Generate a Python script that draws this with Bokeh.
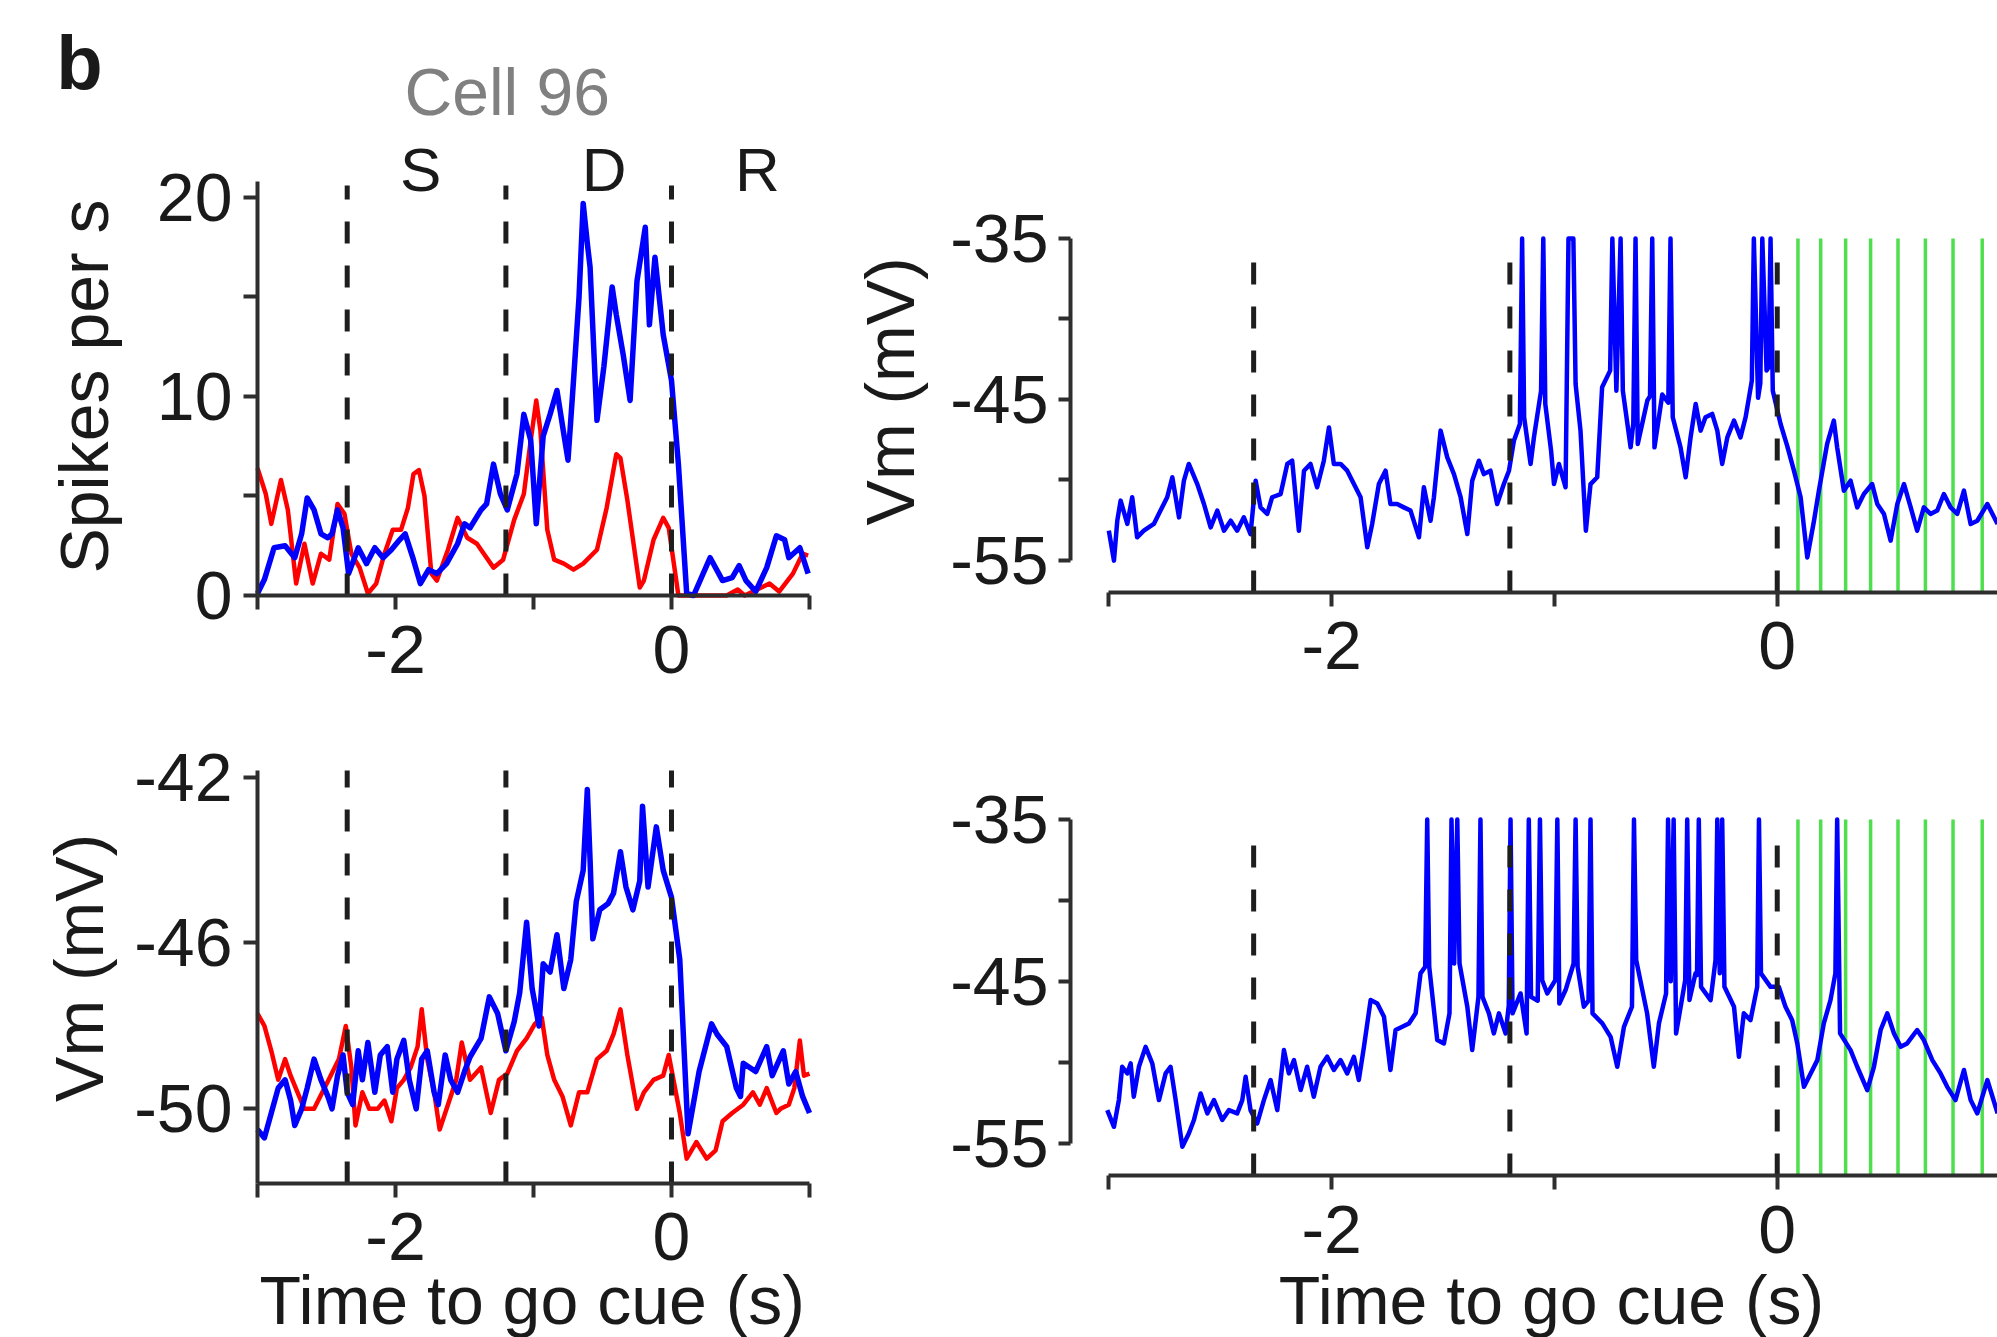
from math import pi
from bokeh.plotting import figure
from bokeh.layouts import column, row
from bokeh.models import Range1d, FixedTicker, Label
from bokeh.embed import file_html
from bokeh.resources import INLINE

# ---------------- data ----------------
epoch_times = [-2.35, -1.2, 0.0]          # sample / delay / response boundaries
photostim_times = [0.093, 0.195, 0.307, 0.419, 0.542, 0.665, 0.789, 0.92]

# top-left: spike rate (spikes per s)
tl_blue = [(-3.00, 0.1), (-2.95, 0.8), (-2.88, 2.4), (-2.80, 2.5), (-2.73, 1.9), (-2.68, 3.1),
           (-2.64, 4.9), (-2.59, 4.3), (-2.54, 3.1), (-2.49, 2.9), (-2.46, 3.1), (-2.42, 4.3),
           (-2.38, 3.4), (-2.34, 1.1), (-2.27, 2.4), (-2.21, 1.6), (-2.15, 2.4), (-2.09, 1.9),
           (-2.03, 2.3), (-1.97, 2.8), (-1.93, 3.1), (-1.87, 1.8), (-1.82, 0.6), (-1.76, 1.3),
           (-1.70, 1.1), (-1.63, 1.6), (-1.55, 2.6), (-1.50, 3.6), (-1.46, 3.4), (-1.38, 4.3),
           (-1.34, 4.6), (-1.29, 6.6), (-1.24, 5.1), (-1.19, 4.3), (-1.12, 6.1), (-1.07, 9.1),
           (-1.02, 7.8), (-0.98, 3.6), (-0.93, 8.0), (-0.88, 9.1), (-0.83, 10.3), (-0.78, 8.1),
           (-0.75, 6.8), (-0.71, 10.8), (-0.67, 15.0), (-0.64, 19.7), (-0.61, 17.7), (-0.59, 16.5),
           (-0.54, 8.8), (-0.49, 11.5), (-0.43, 15.5), (-0.40, 14.1), (-0.35, 12.1), (-0.30, 9.8),
           (-0.25, 15.8), (-0.19, 18.5), (-0.16, 13.6), (-0.12, 17.0), (-0.06, 13.1), (0.00, 10.8),
           (0.05, 6.6), (0.11, 0.1), (0.16, 0.0), (0.28, 1.9), (0.37, 0.75), (0.44, 0.9),
           (0.49, 1.5), (0.54, 0.75), (0.61, 0.2), (0.69, 1.4), (0.76, 3.0), (0.82, 2.8),
           (0.85, 1.9), (0.93, 2.4), (0.99, 1.1)]
tl_red = [(-3.00, 6.4), (-2.94, 5.1), (-2.90, 3.6), (-2.83, 5.8), (-2.78, 4.3), (-2.72, 0.6),
          (-2.66, 2.6), (-2.60, 0.6), (-2.54, 2.1), (-2.48, 1.8), (-2.42, 4.6), (-2.37, 4.1),
          (-2.32, 2.1), (-2.26, 1.4), (-2.20, 0.1), (-2.14, 0.6), (-2.08, 2.1), (-2.02, 3.3),
          (-1.96, 3.3), (-1.91, 4.4), (-1.87, 6.1), (-1.83, 6.3), (-1.79, 5.0), (-1.74, 1.1),
          (-1.70, 0.75), (-1.62, 2.3), (-1.55, 3.9), (-1.48, 2.9), (-1.41, 2.6), (-1.36, 2.1),
          (-1.29, 1.4), (-1.22, 1.8), (-1.14, 3.8), (-1.07, 5.1), (-1.02, 7.8), (-0.98, 9.8),
          (-0.95, 8.3), (-0.90, 3.3), (-0.85, 1.8), (-0.78, 1.6), (-0.71, 1.3), (-0.64, 1.6),
          (-0.54, 2.3), (-0.47, 4.4), (-0.40, 7.1), (-0.37, 6.9), (-0.32, 4.8), (-0.23, 0.4),
          (-0.20, 0.75), (-0.13, 2.8), (-0.06, 3.9), (-0.02, 3.4), (0.05, 0.0), (0.40, 0.0),
          (0.48, 0.3), (0.53, 0.0), (0.71, 0.6), (0.78, 0.2), (0.88, 1.1), (0.95, 2.1), (0.99, 2.0)]

# bottom-left: average Vm (mV)
bl_blue = [(-3.00, -50.5), (-2.95, -50.7), (-2.90, -50.1), (-2.85, -49.5), (-2.80, -49.3),
           (-2.76, -49.8), (-2.73, -50.4), (-2.68, -50.0), (-2.64, -49.5), (-2.59, -48.8),
           (-2.54, -49.3), (-2.49, -49.7), (-2.46, -50.0), (-2.42, -49.2), (-2.38, -48.7),
           (-2.35, -49.6), (-2.31, -49.9), (-2.27, -48.6), (-2.24, -49.3), (-2.20, -48.4),
           (-2.15, -49.6), (-2.11, -48.7), (-2.06, -48.5), (-2.02, -49.6), (-1.99, -48.8),
           (-1.94, -48.35), (-1.90, -49.3), (-1.85, -50.0), (-1.81, -48.8), (-1.77, -48.6),
           (-1.72, -49.6), (-1.69, -49.9), (-1.64, -48.7), (-1.60, -49.3), (-1.55, -49.6),
           (-1.50, -49.1), (-1.46, -48.75), (-1.38, -48.3), (-1.32, -47.3), (-1.26, -47.7),
           (-1.20, -48.6), (-1.14, -47.9), (-1.10, -47.2), (-1.05, -45.5), (-1.01, -47.1),
           (-0.96, -48.0), (-0.93, -46.5), (-0.88, -46.7), (-0.83, -45.8), (-0.78, -47.1),
           (-0.73, -46.4), (-0.69, -45.0), (-0.64, -44.25), (-0.61, -42.3), (-0.59, -44.0),
           (-0.57, -45.9), (-0.52, -45.2), (-0.46, -45.05), (-0.42, -44.8), (-0.37, -43.8),
           (-0.33, -44.65), (-0.28, -45.2), (-0.23, -44.5), (-0.21, -42.7), (-0.17, -44.65),
           (-0.11, -43.2), (-0.06, -44.25), (0.00, -44.9), (0.06, -46.4), (0.12, -50.6),
           (0.20, -49.1), (0.29, -47.95), (0.33, -48.2), (0.40, -48.5), (0.47, -49.5),
           (0.50, -49.7), (0.52, -48.9), (0.61, -49.1), (0.69, -48.5), (0.73, -49.2),
           (0.81, -48.6), (0.85, -49.4), (0.90, -49.1), (0.95, -49.7), (1.00, -50.1)]
bl_red = [(-3.00, -47.7), (-2.95, -48.0), (-2.90, -48.6), (-2.85, -49.3), (-2.80, -48.8),
          (-2.76, -49.2), (-2.71, -49.6), (-2.66, -50.0), (-2.59, -50.0), (-2.53, -49.6),
          (-2.47, -49.2), (-2.41, -48.8), (-2.36, -48.0), (-2.32, -49.0), (-2.29, -50.4),
          (-2.24, -49.6), (-2.19, -50.0), (-2.13, -50.0), (-2.08, -49.8), (-2.03, -50.3),
          (-1.99, -49.5), (-1.94, -49.3), (-1.89, -49.0), (-1.84, -48.5), (-1.81, -47.6),
          (-1.77, -48.8), (-1.72, -49.6), (-1.68, -50.5), (-1.62, -49.9), (-1.56, -49.3),
          (-1.52, -48.4), (-1.46, -49.3), (-1.38, -49.0), (-1.31, -50.1), (-1.25, -49.3),
          (-1.19, -49.15), (-1.12, -48.6), (-1.05, -48.3), (-0.99, -47.95), (-0.94, -47.8),
          (-0.90, -48.7), (-0.85, -49.3), (-0.79, -49.7), (-0.73, -50.4), (-0.67, -49.6),
          (-0.61, -49.6), (-0.54, -48.8), (-0.47, -48.6), (-0.42, -48.2), (-0.37, -47.6),
          (-0.32, -48.7), (-0.25, -50.0), (-0.20, -49.6), (-0.13, -49.3), (-0.06, -49.2),
          (-0.02, -48.7), (0.06, -50.1), (0.11, -51.2), (0.18, -50.8), (0.255, -51.2),
          (0.32, -51.0), (0.37, -50.3), (0.44, -50.1), (0.52, -49.9), (0.59, -49.6),
          (0.64, -49.9), (0.69, -49.5), (0.76, -50.1), (0.79, -50.0), (0.85, -49.9),
          (0.89, -49.5), (0.93, -48.35), (0.96, -49.2), (1.00, -49.15)]

# top-right: single-trial Vm (spike peaks clipped at -35 mV)
tr_blue = [(-3.000, -53.16), (-2.977, -55.02), (-2.962, -52.54), (-2.947, -51.29), (-2.917, -52.74),
           (-2.895, -51.08), (-2.873, -53.57), (-2.843, -53.16), (-2.798, -52.74), (-2.768, -51.91),
           (-2.738, -51.08), (-2.715, -49.84), (-2.685, -52.33), (-2.663, -50.05), (-2.641, -49.01),
           (-2.603, -50.26), (-2.573, -51.50), (-2.543, -52.95), (-2.513, -51.91), (-2.483, -53.16),
           (-2.453, -52.54), (-2.424, -53.16), (-2.394, -52.33), (-2.364, -53.37), (-2.341, -50.05),
           (-2.319, -51.71), (-2.289, -52.12), (-2.267, -51.08), (-2.229, -50.88), (-2.199, -49.01),
           (-2.177, -48.81), (-2.147, -53.16), (-2.124, -49.43), (-2.095, -49.01), (-2.065, -50.46),
           (-2.035, -48.81), (-2.012, -46.74), (-1.990, -49.01), (-1.960, -49.01), (-1.930, -49.43),
           (-1.900, -50.26), (-1.870, -51.08), (-1.840, -54.19), (-1.818, -52.74), (-1.788, -50.26),
           (-1.758, -49.43), (-1.736, -51.50), (-1.706, -51.50), (-1.676, -51.71), (-1.646, -51.91),
           (-1.608, -53.57), (-1.586, -50.46), (-1.556, -52.54), (-1.541, -51.08), (-1.511, -46.94),
           (-1.481, -48.60), (-1.451, -49.64), (-1.421, -51.08), (-1.391, -53.37), (-1.369, -50.05),
           (-1.339, -48.81), (-1.317, -49.64), (-1.287, -49.43), (-1.257, -51.50), (-1.227, -50.26),
           (-1.204, -49.43), (-1.182, -47.57), (-1.155, -46.53), (-1.145, -35.0), (-1.136, -46.11),
           (-1.107, -49.01), (-1.092, -47.36), (-1.060, -44.46), (-1.050, -35.0), (-1.041, -45.28),
           (-1.015, -48.19), (-1.002, -50.26), (-0.980, -49.01), (-0.950, -50.46), (-0.937, -35.0),
           (-0.915, -35.0), (-0.905, -44.04), (-0.883, -46.94), (-0.859, -53.16), (-0.838, -50.26),
           (-0.808, -49.84), (-0.786, -44.25), (-0.750, -43.21), (-0.740, -35.0), (-0.722, -44.46),
           (-0.703, -35.0), (-0.693, -44.46), (-0.658, -47.98), (-0.646, -46.50), (-0.636, -35.0),
           (-0.626, -47.77), (-0.583, -45.07), (-0.571, -44.80), (-0.561, -35.0), (-0.551, -47.98),
           (-0.516, -44.70), (-0.489, -45.20), (-0.479, -35.0), (-0.469, -46.11), (-0.434, -47.98),
           (-0.411, -49.84), (-0.389, -47.36), (-0.366, -45.28), (-0.344, -46.94), (-0.322, -46.11),
           (-0.292, -45.90), (-0.269, -46.94), (-0.247, -49.01), (-0.224, -47.36), (-0.194, -46.32),
           (-0.165, -47.36), (-0.142, -46.11), (-0.114, -43.83), (-0.105, -35.0), (-0.086, -44.90),
           (-0.076, -44.00), (-0.067, -35.0), (-0.048, -43.20), (-0.039, -43.00), (-0.030, -35.0),
           (-0.020, -44.46), (0.015, -46.53), (0.045, -47.90), (0.075, -49.43), (0.105, -51.08),
           (0.135, -54.82), (0.165, -52.54), (0.187, -50.67), (0.224, -47.77), (0.254, -46.32),
           (0.269, -47.98), (0.299, -50.67), (0.329, -50.05), (0.359, -51.71), (0.389, -50.88),
           (0.426, -50.26), (0.449, -51.50), (0.479, -52.12), (0.509, -53.78), (0.539, -51.50),
           (0.569, -50.26), (0.599, -51.71), (0.628, -53.16), (0.658, -51.71), (0.688, -52.12),
           (0.718, -51.91), (0.748, -50.88), (0.778, -51.71), (0.808, -52.12), (0.838, -50.67),
           (0.868, -52.74), (0.898, -52.54), (0.943, -51.50), (0.989, -52.74)]

# bottom-right: single-trial Vm (spike peaks clipped at -35 mV)
br_blue = [(-3.007, -52.96), (-2.977, -53.99), (-2.955, -52.34), (-2.940, -50.28), (-2.917, -50.69),
           (-2.902, -50.07), (-2.888, -52.13), (-2.865, -50.28), (-2.835, -49.05), (-2.805, -50.07),
           (-2.775, -52.34), (-2.745, -50.69), (-2.723, -50.28), (-2.700, -52.34), (-2.670, -55.22),
           (-2.641, -54.40), (-2.618, -53.57), (-2.588, -51.93), (-2.558, -53.16), (-2.528, -52.34),
           (-2.491, -53.57), (-2.461, -52.96), (-2.424, -53.16), (-2.401, -52.34), (-2.386, -50.90),
           (-2.364, -52.96), (-2.334, -53.78), (-2.304, -52.34), (-2.274, -51.10), (-2.244, -52.96),
           (-2.214, -49.25), (-2.192, -50.69), (-2.169, -49.87), (-2.139, -51.72), (-2.110, -50.28),
           (-2.080, -52.13), (-2.050, -50.28), (-2.020, -49.66), (-1.990, -50.48), (-1.960, -49.87),
           (-1.930, -50.69), (-1.900, -49.66), (-1.878, -51.10), (-1.855, -49.05), (-1.825, -46.16),
           (-1.795, -46.37), (-1.765, -47.19), (-1.736, -50.48), (-1.713, -48.01), (-1.683, -47.81),
           (-1.653, -47.60), (-1.623, -46.98), (-1.601, -44.51), (-1.580, -44.10), (-1.571, -35.0),
           (-1.562, -44.10), (-1.526, -48.63), (-1.496, -48.84), (-1.471, -46.98), (-1.462, -35.0),
           (-1.450, -43.90), (-1.436, -35.0), (-1.426, -43.90), (-1.391, -46.57), (-1.369, -49.25),
           (-1.341, -45.96), (-1.332, -35.0), (-1.323, -45.96), (-1.294, -46.98), (-1.272, -48.22),
           (-1.249, -46.98), (-1.219, -48.22), (-1.205, -46.50), (-1.197, -35.0), (-1.188, -46.98),
           (-1.152, -45.75), (-1.125, -48.22), (-1.115, -35.0), (-1.105, -45.96), (-1.075, -46.20),
           (-1.065, -35.0), (-1.055, -44.93), (-1.032, -45.75), (-0.996, -44.93), (-0.987, -35.0),
           (-0.978, -46.37), (-0.950, -45.54), (-0.914, -43.90), (-0.905, -35.0), (-0.896, -44.10),
           (-0.868, -46.57), (-0.847, -46.20), (-0.838, -35.0), (-0.829, -46.98), (-0.785, -47.60),
           (-0.748, -48.43), (-0.718, -50.28), (-0.688, -47.81), (-0.652, -46.57), (-0.643, -35.0),
           (-0.633, -43.69), (-0.584, -46.98), (-0.554, -50.28), (-0.531, -47.60), (-0.499, -45.75),
           (-0.490, -35.0), (-0.478, -45.00), (-0.465, -35.0), (-0.454, -48.22), (-0.413, -44.93),
           (-0.404, -35.0), (-0.394, -46.16), (-0.367, -44.51), (-0.360, -44.60), (-0.352, -35.0),
           (-0.342, -45.34), (-0.299, -46.16), (-0.277, -43.69), (-0.269, -35.0), (-0.258, -44.50),
           (-0.247, -35.0), (-0.237, -45.34), (-0.194, -46.57), (-0.172, -49.66), (-0.150, -46.98),
           (-0.120, -47.40), (-0.090, -45.34), (-0.082, -35.0), (-0.073, -44.51), (-0.030, -45.34),
           (0.007, -45.34), (0.037, -46.57), (0.067, -47.40), (0.090, -48.84), (0.120, -51.52),
           (0.150, -50.69), (0.180, -49.87), (0.209, -47.60), (0.239, -46.16), (0.261, -44.51),
           (0.269, -35.0), (0.282, -48.22), (0.329, -49.25), (0.359, -50.28), (0.404, -51.72),
           (0.434, -50.28), (0.464, -48.01), (0.494, -46.98), (0.524, -48.22), (0.554, -49.05),
           (0.583, -48.84), (0.628, -48.01), (0.658, -48.63), (0.696, -49.87), (0.733, -50.69),
           (0.763, -51.52), (0.800, -52.34), (0.838, -50.48), (0.868, -52.34), (0.898, -53.16),
           (0.943, -51.10), (0.989, -53.16)]

x_ticks = [-3, -2, -1, 0, 1]
x_tick_labels = {-3: "", -2: "-2", -1: "", 0: "0", 1: ""}
tl_y_ticks = [0, 5, 10, 15, 20]
tl_y_tick_labels = {0: "0", 5: "", 10: "10", 15: "", 20: "20"}
bl_y_ticks = [-50, -46, -42]
bl_y_tick_labels = {-50: "-50", -46: "-46", -42: "-42"}
r_y_ticks = [-55, -50, -45, -40, -35]
r_y_tick_labels = {-55: "-55", -50: "", -45: "-45", -40: "", -35: "-35"}

# ---------------- styling ----------------
FONT = "Liberation Sans"
TXT = "#1a1a1a"
AX = "#2e2e2e"
BLUE = "#0000ff"
RED = "#ff0000"
GREEN = "#4ddf4d"
DASH = "#1e1e1e"
TICK_FS = "68px"
LABEL_FS = "68px"
LEFT_W, RIGHT_W = 830, 1167
TOP_H, BOTTOM_H = 700, 637


def split(pts):
    return [p[0] for p in pts], [p[1] for p in pts]


def base_fig(w, h, xr, yr, x_at, y_at, xb, yb):
    # the frame fills the whole figure; the axes sit at fixed data locations
    p = figure(width=w, height=h, x_range=Range1d(*xr), y_range=Range1d(*yr),
               output_backend="svg", toolbar_location=None,
               min_border_left=0, min_border_right=0, min_border_top=0, min_border_bottom=0)
    p.outline_line_color = None
    p.xgrid.visible = False
    p.ygrid.visible = False
    p.background_fill_color = "white"
    p.border_fill_color = "white"
    for ax in (p.xaxis[0], p.yaxis[0]):
        ax.axis_line_width = 4
        ax.axis_line_color = AX
        ax.major_tick_line_width = 4
        ax.major_tick_line_color = AX
        ax.major_tick_in = 0
        ax.major_tick_out = 14
        ax.minor_tick_line_color = None
        ax.major_label_text_font = FONT
        ax.major_label_text_color = TXT
        ax.major_label_text_font_size = TICK_FS
    p.xaxis.major_label_standoff = 16
    p.yaxis.major_label_standoff = 11
    p.xaxis.ticker = FixedTicker(ticks=x_ticks)
    p.xaxis.major_label_overrides = x_tick_labels
    p.xaxis.fixed_location = x_at
    p.yaxis.fixed_location = y_at
    p.xaxis.bounds = xb
    p.yaxis.bounds = yb
    return p


def add_text(p, x, y, text, size, angle=0.0, color=TXT, style="normal"):
    p.add_layout(Label(x=x, y=y, text=text, text_font=FONT, text_font_size=size,
                       text_color=color, text_align="center", text_baseline="middle",
                       angle=angle, text_font_style=style))


def add_epochs(p, y0, y1):
    n = len(epoch_times)
    p.segment(x0=epoch_times, y0=[y0] * n, x1=epoch_times, y1=[y1] * n,
              line_color=DASH, line_width=5, line_dash="22 22")


def add_photostim(p, y0, y1):
    n = len(photostim_times)
    p.segment(x0=photostim_times, y0=[y0] * n, x1=photostim_times, y1=[y1] * n,
              line_color=GREEN, line_width=3.5)


# left panels: x -3..1 spans pixels 257..809 of the window (138 px per s)
L_X0 = -3 - 257 / 138
L_X1 = 1 + (LEFT_W - 809) / 138
# right panels: x -3.172..0.9886 spans pixels 1070..1997 (222.8 px per s)
R_X0 = -3.172 - (1070 - LEFT_W) / 222.8
R_X1 = 0.9886

# ---- top-left: spike rate ----
tl = base_fig(LEFT_W, TOP_H, (L_X0, L_X1), (-5.275, 29.894), 0, -3, (-3, 1), (0, 20.8))
tl.yaxis.ticker = FixedTicker(ticks=tl_y_ticks)
tl.yaxis.major_label_overrides = tl_y_tick_labels
x, y = split(tl_red)
tl.line(x, y, line_color=RED, line_width=4.5, line_join="round")
x, y = split(tl_blue)
tl.line(x, y, line_color=BLUE, line_width=5.5, line_join="round")
add_epochs(tl, 0, 20.6)
add_text(tl, -4.26, 10.5, "Spikes per s", LABEL_FS, angle=pi / 2)
add_text(tl, -4.29, 26.8, "b", "76px", style="bold")
add_text(tl, -1.19, 25.3, "Cell 96", "66px", color="#808080")
add_text(tl, -1.817, 21.4, "S", "62px")
add_text(tl, -0.489, 21.4, "D", "62px")
add_text(tl, 0.623, 21.4, "R", "62px")

# ---- top-right: single trial Vm ----
tr = base_fig(RIGHT_W, TOP_H, (R_X0, R_X1), (-63.712, -20.209), -57, -3.172, (-3, 1.5), (-55, -35))
tr.yaxis.ticker = FixedTicker(ticks=r_y_ticks)
tr.yaxis.major_label_overrides = r_y_tick_labels
tr.yaxis.major_tick_out = 12
tr.yaxis.major_label_standoff = 10
add_photostim(tr, -57, -35)
x, y = split(tr_blue)
tr.line(x, y, line_color=BLUE, line_width=4.5, line_join="round")
add_epochs(tr, -57, -35.7)
add_text(tr, -3.98, -44.5, "Vm (mV)", LABEL_FS, angle=pi / 2)

# ---- bottom-left: average Vm ----
bl = base_fig(LEFT_W, BOTTOM_H, (L_X0, L_X1), (-55.514, -40.152), -51.8, -3, (-3, 1), (-51.8, -41.84))
bl.yaxis.ticker = FixedTicker(ticks=bl_y_ticks)
bl.yaxis.major_label_overrides = bl_y_tick_labels
x, y = split(bl_red)
bl.line(x, y, line_color=RED, line_width=4.5, line_join="round")
x, y = split(bl_blue)
bl.line(x, y, line_color=BLUE, line_width=5.5, line_join="round")
add_epochs(bl, -51.8, -41.84)
add_text(bl, -4.29, -46.6, "Vm (mV)", LABEL_FS, angle=pi / 2)
add_text(bl, -1.009, -54.6, "Time to go cue (s)", LABEL_FS)

# ---- bottom-right: single trial Vm ----
br = base_fig(RIGHT_W, BOTTOM_H, (R_X0, R_X1), (-67.011, -27.646), -57, -3.172, (-3, 1.5), (-55, -35))
br.yaxis.ticker = FixedTicker(ticks=r_y_ticks)
br.yaxis.major_label_overrides = r_y_tick_labels
br.yaxis.major_tick_out = 12
br.yaxis.major_label_standoff = 10
add_photostim(br, -57, -35)
x, y = split(br_blue)
br.line(x, y, line_color=BLUE, line_width=4.5, line_join="round")
add_epochs(br, -57, -35.7)
add_text(br, -1.013, -64.7, "Time to go cue (s)", LABEL_FS)

layout = column(row(tl, tr), row(bl, br))
open("out.html", "w").write(file_html(layout, INLINE))
